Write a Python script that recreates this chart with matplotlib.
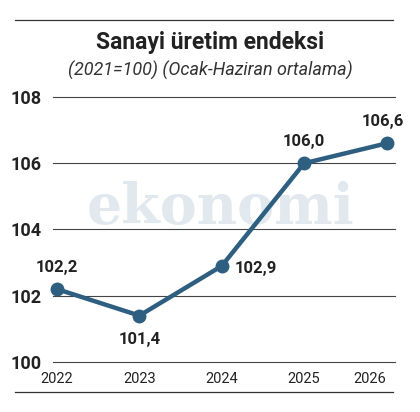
import matplotlib
matplotlib.use("Agg")
import matplotlib.pyplot as plt
from matplotlib.lines import Line2D

years = [2022, 2023, 2024, 2025, 2026]
values = [102.2, 101.4, 102.9, 106.0, 106.6]
labels = ["102,2", "101,4", "102,9", "106,0", "106,6"]
yticks = [100, 102, 104, 106, 108]

line_color = "#2e5f80"
plt.rcParams['font.family'] = ['Roboto', 'DejaVu Sans']

fig = plt.figure(figsize=(4.2, 4.12), dpi=100)
ax = fig.add_axes([0.126, 0.1214, 0.814, 0.6432])

ax.set_ylim(100, 108)
ax.set_xlim(2021.95, 2026.1)
ax.set_yticks(yticks)
ax.set_yticklabels([str(t) for t in yticks], fontsize=13, fontweight='bold', color='#222222')
ax.set_xticks(years)
ax.set_xticklabels([str(y) for y in years], fontsize=10.5, color='#222222')
ax.tick_params(axis='both', length=0)
ax.tick_params(axis='y', pad=8)
ax.tick_params(axis='x', pad=7)
ax.get_xticklabels()[-1].set_ha('right')
for s in ax.spines.values():
    s.set_visible(False)
ax.grid(axis='y', color='#444444', lw=0.8)
for gl in ax.get_ygridlines():
    gl.set_clip_on(False)
ax.set_axisbelow(True)

# faint watermark
ax.text(0.49, 0.58, "ekonomi", transform=ax.transAxes, ha='center', va='center',
        fontsize=40, fontweight='bold', family='DejaVu Serif', color='#e1e9ef', zorder=0)

ax.plot(years, values, color=line_color, lw=3.2, marker='o', markersize=9,
        clip_on=False, zorder=3)

offsets = [(0, 10, 'center', 'bottom'), (0, -12, 'center', 'top'),
           (9, -2, 'left', 'center'), (0, 10, 'center', 'bottom'),
           (-3, 10, 'center', 'bottom')]
for x, y, lab, (dx, dy, ha, va) in zip(years, values, labels, offsets):
    ax.annotate(lab, (x, y), xytext=(dx, dy), textcoords='offset points',
                ha=ha, va=va, fontsize=12, fontweight='bold', color='#222222')

fig.text(0.5, 0.898, "Sanayi üretim endeksi", ha='center', va='center',
         fontsize=16.5, fontweight='bold', color='#222222')
fig.text(0.5, 0.830, "(2021=100) (Ocak-Haziran ortalama)", ha='center', va='center',
         fontsize=13, style='italic', color='#333333')

fig.add_artist(Line2D([15/420, 393/420], [1 - 20/412, 1 - 20/412], color='#333333', lw=0.9))
fig.add_artist(Line2D([15/420, 393/420], [1 - 392/412, 1 - 392/412], color='#333333', lw=0.9))

fig.savefig("out.png", dpi=100)
